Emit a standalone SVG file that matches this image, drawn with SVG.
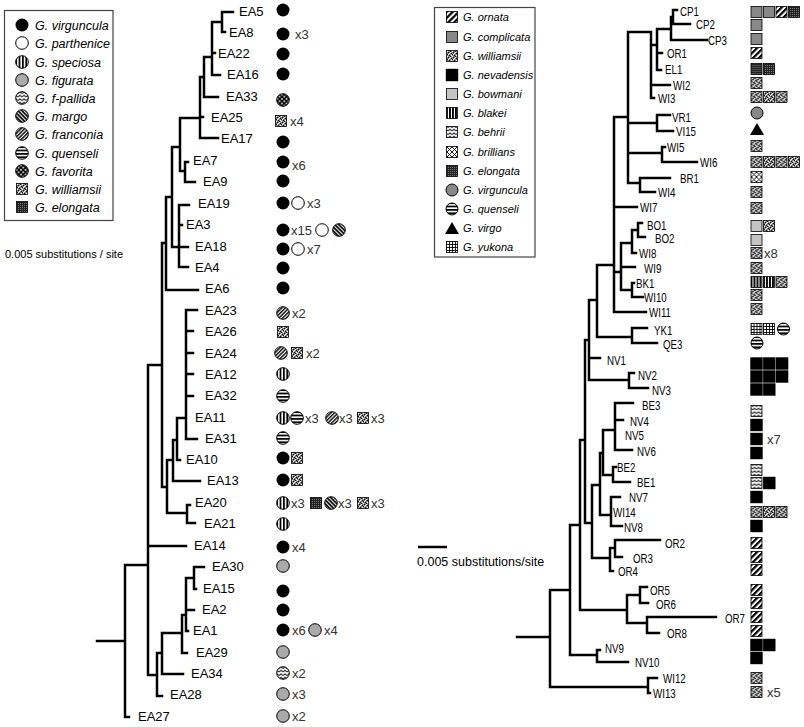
<svg xmlns="http://www.w3.org/2000/svg" width="804" height="727" viewBox="0 0 804 727">
<style>
.t{fill:none;stroke:#000;stroke-width:2.5;stroke-linecap:square;stroke-linejoin:miter}
.l{font-family:"Liberation Sans",Arial,sans-serif;font-size:13px;fill:#000}
.r{font-family:"Liberation Sans",Arial,sans-serif;font-size:12.5px;fill:#000}
.n{font-family:"Liberation Sans",Arial,sans-serif;font-size:13px;fill:#333}
.lg{font-family:"Liberation Sans",Arial,sans-serif;font-size:12.5px;font-style:italic;fill:#000}
.lg2{font-family:"Liberation Sans",Arial,sans-serif;font-size:11px;font-style:italic;fill:#000}
.sc{font-family:"Liberation Sans",Arial,sans-serif;fill:#000}
.box{fill:#fff;stroke:#444;stroke-width:1.2}
</style>
<defs>
<pattern id="pV" width="3.4" height="3.4" patternUnits="userSpaceOnUse"><rect width="3.4" height="3.4" fill="#fff"/><rect width="1.8" height="3.4" fill="#000"/></pattern>
<pattern id="pH" width="3.4" height="3.4" patternUnits="userSpaceOnUse"><rect width="3.4" height="3.4" fill="#fff"/><rect width="3.4" height="1.8" fill="#000"/></pattern>
<pattern id="pMa" width="2.8" height="2.8" patternUnits="userSpaceOnUse" patternTransform="rotate(-45)"><rect width="2.8" height="2.8" fill="#fff"/><rect width="1.7" height="2.8" fill="#000"/></pattern>
<pattern id="pFr" width="2.6" height="2.6" patternUnits="userSpaceOnUse" patternTransform="rotate(45)"><rect width="2.6" height="2.6" fill="#fff"/><rect width="1.4" height="2.6" fill="#000"/></pattern>
<pattern id="pZ" width="4" height="3.5" patternUnits="userSpaceOnUse"><rect width="4" height="3.5" fill="#fff"/><path d="M0 2.6L2 .9L4 2.6" fill="none" stroke="#000" stroke-width=".9"/></pattern>
<pattern id="pFav" width="4.5" height="4.5" patternUnits="userSpaceOnUse"><rect width="4.5" height="4.5" fill="#000"/><rect x=".4" y=".4" width="1.6" height="1.6" fill="#fff"/><rect x="2.65" y="2.65" width="1.6" height="1.6" fill="#fff"/></pattern>
<pattern id="pWil" width="5" height="5" patternUnits="userSpaceOnUse"><rect width="5" height="5" fill="#888"/><path d="M0 0h1v1H0zM3 1h1v1H3zM1 3h1v1H1zM4 4h1v1H4zM2 2h1v1H2z" fill="#fff"/><path d="M1 1h1v1H1zM4 2h1v1H4zM2 4h1v1H2zM0 3h1v1H0zM3 0h1v1H3z" fill="#000"/></pattern>
<pattern id="pElo" width="2" height="2" patternUnits="userSpaceOnUse"><rect width="2" height="2" fill="#222"/><rect width="1" height="1" fill="#777"/></pattern>
<pattern id="pOrn" width="4.2" height="4.2" patternUnits="userSpaceOnUse" patternTransform="rotate(45)"><rect width="4.2" height="4.2" fill="#fff"/><rect width="2.2" height="4.2" fill="#000"/></pattern>
<pattern id="pBr" width="5" height="5" patternUnits="userSpaceOnUse"><rect width="5" height="5" fill="#fff"/><path d="M0 0L5 5M5 0L0 5" stroke="#000" stroke-width=".9"/></pattern>
<pattern id="pYk" width="3" height="3" patternUnits="userSpaceOnUse"><rect width="3" height="3" fill="#000"/><rect x=".9" y=".9" width="2.1" height="2.1" fill="#fff"/></pattern>
<pattern id="pBl" width="3" height="3" patternUnits="userSpaceOnUse"><rect width="3" height="3" fill="#fff"/><rect width="1.9" height="3" fill="#000"/></pattern>
<circle id="cB" r="6.5" fill="#000"/>
<circle id="cW" r="6.3" fill="#fff" stroke="#000" stroke-width="1"/>
<circle id="cSp" r="6.3" fill="url(#pV)" stroke="#000" stroke-width="1"/>
<circle id="cFig" r="6.3" fill="#aaa" stroke="#000" stroke-width="1"/>
<circle id="cFp" r="6.3" fill="url(#pZ)" stroke="#000" stroke-width="1"/>
<circle id="cMa" r="6.3" fill="url(#pMa)" stroke="#000" stroke-width="1"/>
<circle id="cFr" r="6.3" fill="url(#pFr)" stroke="#000" stroke-width="1"/>
<circle id="cQu" r="6.3" fill="url(#pH)" stroke="#000" stroke-width="1"/>
<circle id="cFav" r="6.3" fill="url(#pFav)" stroke="#000" stroke-width="1"/>
<rect id="sWil" x="-5.5" y="-5.5" width="11" height="11" fill="url(#pWil)" stroke="#000" stroke-width=".8"/>
<rect id="sElo" x="-5.5" y="-5.5" width="11" height="11" fill="url(#pElo)" stroke="#000" stroke-width=".8"/>
<rect id="sOrn" x="-5.5" y="-5.5" width="11" height="11" fill="url(#pOrn)" stroke="#000" stroke-width=".8"/>
<rect id="sCom" x="-5.5" y="-5.5" width="11" height="11" fill="#888" stroke="#000" stroke-width=".8"/>
<rect id="sBow" x="-5.5" y="-5.5" width="11" height="11" fill="#c4c4c4" stroke="#000" stroke-width=".8"/>
<rect id="sBla" x="-5.5" y="-5.5" width="11" height="11" fill="url(#pBl)" stroke="#000" stroke-width=".8"/>
<rect id="sBeh" x="-5.5" y="-5.5" width="11" height="11" fill="url(#pZ)" stroke="#000" stroke-width=".8"/>
<rect id="sBri" x="-5.5" y="-5.5" width="11" height="11" fill="url(#pBr)" stroke="#000" stroke-width=".8"/>
<rect id="sYuk" x="-5.5" y="-5.5" width="11" height="11" fill="url(#pYk)" stroke="#000" stroke-width=".8"/>
<rect id="sNev" x="-6.2" y="-6.2" width="12.4" height="12.4" fill="#000"/>
<circle id="cVir" r="6" fill="#888" stroke="#000" stroke-width="1"/>
<circle id="cQ2" r="6" fill="url(#pH)" stroke="#000" stroke-width="1"/>
<path id="tri" d="M-7 6L7 6L0 -6Z" fill="#000"/>
</defs>
<rect width="804" height="727" fill="#fff"/>

<!-- Left legend -->
<g id="legend-left">
<rect class="box" x="4.5" y="10.5" width="108.5" height="210"/>
<use href="#cB" x="22" y="25"/><text class="lg" x="35" y="29.5">G. virguncula</text>
<use href="#cW" x="22" y="43"/><text class="lg" x="35" y="47.5">G. parthenice</text>
<use href="#cSp" x="22" y="62"/><text class="lg" x="35" y="66.5">G. speciosa</text>
<use href="#cFig" x="22" y="80"/><text class="lg" x="35" y="84.5">G. figurata</text>
<use href="#cFp" x="22" y="98"/><text class="lg" x="35" y="102.5">G. f-pallida</text>
<use href="#cMa" x="22" y="116"/><text class="lg" x="35" y="120.5">G. margo</text>
<use href="#cFr" x="22" y="134"/><text class="lg" x="35" y="138.5">G. franconia</text>
<use href="#cQu" x="22" y="153"/><text class="lg" x="35" y="157.5">G. quenseli</text>
<use href="#cFav" x="22" y="171"/><text class="lg" x="35" y="175.5">G. favorita</text>
<use href="#sWil" x="22" y="189"/><text class="lg" x="35" y="193.5">G. williamsii</text>
<use href="#sElo" x="22" y="207"/><text class="lg" x="35" y="211.5">G. elongata</text>
</g>
<text id="scale-left" class="sc" x="5" y="258" font-size="11">0.005 substitutions / site</text>

<!-- Right legend -->
<g id="legend-right">
<rect class="box" x="434.5" y="7.5" width="100.5" height="249.5"/>
<use href="#sOrn" x="452" y="17"/><text class="lg2" x="463" y="21">G. ornata</text>
<use href="#sCom" x="452" y="37"/><text class="lg2" x="463" y="41">G. complicata</text>
<use href="#sWil" x="452" y="56"/><text class="lg2" x="463" y="60">G. williamsii</text>
<use href="#sNev" x="452" y="75"/><text class="lg2" x="463" y="79">G. nevadensis</text>
<use href="#sBow" x="452" y="94"/><text class="lg2" x="463" y="98">G. bowmani</text>
<use href="#sBla" x="452" y="113"/><text class="lg2" x="463" y="117">G. blakei</text>
<use href="#sBeh" x="452" y="132"/><text class="lg2" x="463" y="136">G. behrii</text>
<use href="#sBri" x="452" y="152"/><text class="lg2" x="463" y="156">G. brillians</text>
<use href="#sElo" x="452" y="171"/><text class="lg2" x="463" y="175">G. elongata</text>
<use href="#cVir" x="452" y="190"/><text class="lg2" x="463" y="194">G. virguncula</text>
<use href="#cQ2" x="452" y="209"/><text class="lg2" x="463" y="213">G. quenseli</text>
<use href="#tri" x="452" y="228"/><text class="lg2" x="463" y="232">G. virgo</text>
<use href="#sYuk" x="452" y="247"/><text class="lg2" x="463" y="251">G. yukona</text>
</g>
<g id="scale-right">
<path d="M418 547H447" stroke="#000" stroke-width="2.5"/>
<text class="sc" x="417" y="566" font-size="12.5">0.005 substitutions/site</text>
</g>

<!-- Connectors -->
<g id="connectors">
<path class="t" d="M222 12V32M222 12H233M222 32H225M212 22V75M212 22H222M212 53H215M212 75H220M204 57V97M204 57H212M204 97H218M200 77V138M200 77H204M200 117H203M200 138H218M180 118V171M180 118H200M180 171H185M185 162V182M185 162H188M185 182H195M172 147V247M172 147H180M172 247H179M179 205V267M179 205H189M179 225H182M179 247H188M179 267H188M166 197V290M166 197H172M166 290H198M162 243V487M162 243H166M162 487H167M186 310V439M186 310H197M186 331H193M186 353H193M186 374H193M186 396H193M186 439H197M177 418V460M177 418H186M177 460H180M173 440V481M173 440H177M173 481H200M167 460V513M167 460H173M167 513H187M187 505V523M187 505H190M187 523H195M148 365V675M148 365H162M148 546H186M148 675H157M125 565V717M125 565H148M125 717H129M97 641H125M157 653V696M157 653H162M157 696H162M162 633V674M162 633H182M162 674H183M182 615V653M182 615H186M182 653H187M186 578V631M186 578H194M186 610H194M186 631H188M194 567V589M194 567H204M194 589H196"/>
<path class="t" d="M673 10V24M673 10H677M673 24H690M671 17V40M671 17H673M671 40H707M657 29V70M657 29H671M657 53H662M657 70H661M651 32V98M651 45H657M651 85H670M651 98H654M628 32V183M628 32H651M628 123H657M628 153H662M628 183H640M657 115V131M657 115H670M657 131H673M662 147V162M662 147H665M662 162H697M640 178V192M640 178H670M640 192H655M614 117V312M614 117H628M614 207H637M614 272H621M614 312H646M621 243V290M621 243H632M621 267H635M621 290H632M632 230V253M632 230H638M632 253H636M638 223V237M638 223H642M638 237H645M632 283V297M632 283H634M632 297H643M597 265V337M597 265H614M597 337H632M632 328V343M632 328H647M632 343H657M589 300V380M589 300H597M589 358H600M589 380H629M629 373V388M629 373H634M629 388H648M585 340V523M585 340H589M585 523H592M592 485V558M592 485H600M592 558H610M600 453V515M600 453H603M600 515H611M603 430V475M603 430H615M603 475H613M615 403V450M615 403H633M615 420H623M615 450H632M613 467V482M613 467H616M613 482H630M611 497V526M611 497H620M611 526H622M610 548V571M610 548H615M610 571H613M615 540V557M615 540H660M615 557H622M580 440V610M580 440H585M580 610H627M627 595V623M627 595H640M627 623H647M640 587V603M640 587H647M640 603H648M647 617V633M647 617H716M647 633H659M570 525V655M570 525H580M570 655H597M597 650V662M597 650H600M597 662H628M550 590V687M550 590H570M550 687H648M517 637H550M648 678V693M648 678H657M648 693H650"/>
</g>

<!-- Left tree leaves -->
<g id="EA5"><text class="l" x="239" y="16">EA5</text><use href="#cB" x="283" y="10"/></g>
<g id="EA8"><text class="l" x="229" y="37">EA8</text><use href="#cB" x="283" y="34"/><text class="n" x="295" y="39">x3</text></g>
<g id="EA22"><text class="l" x="218" y="58">EA22</text><use href="#cB" x="283" y="54"/></g>
<g id="EA16"><text class="l" x="227" y="79">EA16</text><use href="#cB" x="283" y="74"/></g>
<g id="EA33"><text class="l" x="226" y="101">EA33</text><use href="#cFav" x="283" y="100"/></g>
<g id="EA25"><text class="l" x="211" y="122">EA25</text><use href="#sWil" x="281" y="121"/><text class="n" x="290" y="126">x4</text></g>
<g id="EA17"><text class="l" x="221" y="143">EA17</text><use href="#cB" x="283" y="142"/></g>
<g id="EA7"><text class="l" x="193" y="165">EA7</text><use href="#cB" x="283" y="162"/><text class="n" x="292" y="170">x6</text></g>
<g id="EA9"><text class="l" x="203" y="186">EA9</text><use href="#cB" x="283" y="181"/></g>
<g id="EA19"><text class="l" x="198" y="208">EA19</text><use href="#cB" x="283" y="203"/><use href="#cW" x="298" y="203"/><text class="n" x="307" y="208">x3</text></g>
<g id="EA3"><text class="l" x="186" y="229">EA3</text><use href="#cB" x="283" y="230"/><text class="n" x="291" y="235">x15</text><use href="#cW" x="322" y="230"/><use href="#cMa" x="339" y="230"/></g>
<g id="EA18"><text class="l" x="195" y="251">EA18</text><use href="#cB" x="283" y="249"/><use href="#cW" x="298" y="249"/><text class="n" x="307" y="254">x7</text></g>
<g id="EA4"><text class="l" x="195" y="272">EA4</text><use href="#cB" x="283" y="268"/></g>
<g id="EA6"><text class="l" x="205" y="293">EA6</text><use href="#cB" x="283" y="288"/></g>
<g id="EA23"><text class="l" x="205" y="315">EA23</text><use href="#cFr" x="283" y="313"/><text class="n" x="292" y="318">x2</text></g>
<g id="EA26"><text class="l" x="205" y="336">EA26</text><use href="#sWil" x="283" y="332"/></g>
<g id="EA24"><text class="l" x="205" y="358">EA24</text><use href="#cFr" x="281" y="353"/><use href="#sWil" x="297" y="353"/><text class="n" x="306" y="358">x2</text></g>
<g id="EA12"><text class="l" x="205" y="379">EA12</text><use href="#cSp" x="283" y="374"/></g>
<g id="EA32"><text class="l" x="205" y="400">EA32</text><use href="#cQu" x="283" y="396"/></g>
<g id="EA11"><text class="l" x="195" y="422">EA11</text><use href="#cSp" x="283" y="418"/><use href="#cQu" x="297" y="418"/><text class="n" x="305" y="423">x3</text><use href="#cFr" x="332" y="418"/><text class="n" x="339" y="423">x3</text><use href="#sWil" x="363" y="418"/><text class="n" x="371" y="423">x3</text></g>
<g id="EA31"><text class="l" x="205" y="443">EA31</text><use href="#cQu" x="283" y="438"/></g>
<g id="EA10"><text class="l" x="186" y="464">EA10</text><use href="#cB" x="283" y="458"/><use href="#sWil" x="297" y="458"/></g>
<g id="EA13"><text class="l" x="207" y="485">EA13</text><use href="#cB" x="283" y="480"/><use href="#sWil" x="297" y="480"/></g>
<g id="EA20"><text class="l" x="195" y="507">EA20</text><use href="#cSp" x="283" y="503"/><text class="n" x="291" y="508">x3</text><use href="#sElo" x="316" y="503"/><use href="#cMa" x="331" y="503"/><text class="n" x="338" y="508">x3</text><use href="#sWil" x="363" y="503"/><text class="n" x="371" y="508">x3</text></g>
<g id="EA21"><text class="l" x="204" y="528">EA21</text><use href="#cSp" x="283" y="524"/></g>
<g id="EA14"><text class="l" x="194" y="550">EA14</text><use href="#cB" x="283" y="547"/><text class="n" x="292" y="552">x4</text></g>
<g id="EA30"><text class="l" x="212" y="571">EA30</text><use href="#cFig" x="283" y="566"/></g>
<g id="EA15"><text class="l" x="203" y="593">EA15</text><use href="#cB" x="283" y="591"/></g>
<g id="EA2"><text class="l" x="202" y="614">EA2</text><use href="#cB" x="283" y="610"/></g>
<g id="EA1"><text class="l" x="193" y="635">EA1</text><use href="#cB" x="283" y="630"/><text class="n" x="292" y="635">x6</text><use href="#cFig" x="315" y="630"/><text class="n" x="324" y="635">x4</text></g>
<g id="EA29"><text class="l" x="196" y="657">EA29</text><use href="#cFig" x="283" y="652"/></g>
<g id="EA34"><text class="l" x="191" y="678">EA34</text><use href="#cFp" x="283" y="673"/><text class="n" x="292" y="678">x2</text></g>
<g id="EA28"><text class="l" x="170" y="699">EA28</text><use href="#cFig" x="283" y="694"/><text class="n" x="292" y="699">x3</text></g>
<g id="EA27"><text class="l" x="138" y="721">EA27</text><use href="#cFig" x="283" y="716"/><text class="n" x="292" y="721">x2</text></g>

<!-- Right tree leaves -->
<g id="CP1"><text class="r" transform="translate(680 15.5) scale(.78 1)">CP1</text><use href="#sCom" x="756.5" y="12"/><use href="#sCom" x="769" y="12"/><use href="#sOrn" x="781.5" y="12"/><use href="#sElo" x="794" y="12"/></g>
<g id="CP2"><text class="r" transform="translate(696 28.5) scale(.78 1)">CP2</text><use href="#sCom" x="756.5" y="25"/></g>
<g id="CP3"><text class="r" transform="translate(708 44.5) scale(.78 1)">CP3</text><use href="#sCom" x="756.5" y="39"/></g>
<g id="OR1"><text class="r" transform="translate(667 57.5) scale(.78 1)">OR1</text><use href="#sOrn" x="756.5" y="53"/></g>
<g id="EL1"><text class="r" transform="translate(665 73.5) scale(.78 1)">EL1</text><use href="#sElo" x="756.5" y="69"/><use href="#sElo" x="769" y="69"/></g>
<g id="WI2"><text class="r" transform="translate(673 89.5) scale(.78 1)">WI2</text><use href="#sWil" x="756.5" y="83"/></g>
<g id="WI3"><text class="r" transform="translate(658 102.5) scale(.78 1)">WI3</text><use href="#sWil" x="756.5" y="97"/><use href="#sWil" x="769" y="97"/><use href="#sWil" x="781.5" y="97"/></g>
<g id="VR1"><text class="r" transform="translate(672 121.5) scale(.78 1)">VR1</text><use href="#cVir" x="757" y="113"/></g>
<g id="VI15"><text class="r" transform="translate(676 135.5) scale(.78 1)">VI15</text><use href="#tri" x="757" y="129"/></g>
<g id="WI5"><text class="r" transform="translate(667 151.5) scale(.78 1)">WI5</text><use href="#sWil" x="756.5" y="146"/></g>
<g id="WI6"><text class="r" transform="translate(700 166.5) scale(.78 1)">WI6</text><use href="#sWil" x="756.5" y="162"/><use href="#sWil" x="769" y="162"/><use href="#sWil" x="781.5" y="162"/><use href="#sWil" x="794" y="162"/></g>
<g id="BR1"><text class="r" transform="translate(680 182.5) scale(.78 1)">BR1</text><use href="#sBri" x="756.5" y="177"/></g>
<g id="WI4"><text class="r" transform="translate(658 196.5) scale(.78 1)">WI4</text><use href="#sWil" x="756.5" y="192"/></g>
<g id="WI7"><text class="r" transform="translate(640 211.5) scale(.78 1)">WI7</text><use href="#sWil" x="756.5" y="208"/></g>
<g id="BO1"><text class="r" transform="translate(647 229.5) scale(.78 1)">BO1</text><use href="#sBow" x="756.5" y="226"/><use href="#sWil" x="769" y="226"/></g>
<g id="BO2"><text class="r" transform="translate(655 242.5) scale(.78 1)">BO2</text><use href="#sBow" x="756.5" y="240"/></g>
<g id="WI8"><text class="r" transform="translate(639 257.5) scale(.78 1)">WI8</text><use href="#sWil" x="756.5" y="253"/><text class="n" x="764" y="258">x8</text></g>
<g id="WI9"><text class="r" transform="translate(644 272.5) scale(.78 1)">WI9</text><use href="#sWil" x="756.5" y="268"/></g>
<g id="BK1"><text class="r" transform="translate(636 287.5) scale(.78 1)">BK1</text><use href="#sBla" x="756.5" y="282"/><use href="#sBla" x="769" y="282"/><use href="#sWil" x="781.5" y="282"/></g>
<g id="WI10"><text class="r" transform="translate(644 301.5) scale(.78 1)">WI10</text><use href="#sWil" x="756.5" y="295"/></g>
<g id="WI11"><text class="r" transform="translate(649 316.5) scale(.78 1)">WI11</text><use href="#sWil" x="756.5" y="309"/></g>
<g id="YK1"><text class="r" transform="translate(654 334.5) scale(.78 1)">YK1</text><use href="#sYuk" x="756.5" y="329"/><use href="#sYuk" x="769" y="329"/><use href="#cQ2" x="783.5" y="329"/></g>
<g id="QE3"><text class="r" transform="translate(663 348.5) scale(.78 1)">QE3</text><use href="#cQ2" x="757" y="343"/></g>
<g id="NV1"><text class="r" transform="translate(607 364.5) scale(.78 1)">NV1</text><use href="#sNev" x="756.5" y="363.5"/><use href="#sNev" x="769.3" y="363.5"/><use href="#sNev" x="782.1" y="363.5"/></g>
<g id="NV2"><text class="r" transform="translate(638 379.5) scale(.78 1)">NV2</text><use href="#sNev" x="756.5" y="376.5"/><use href="#sNev" x="769.3" y="376.5"/><use href="#sNev" x="782.1" y="376.5"/></g>
<g id="NV3"><text class="r" transform="translate(652 394.5) scale(.78 1)">NV3</text><use href="#sNev" x="756.5" y="389.5"/><use href="#sNev" x="769.3" y="389.5"/></g>
<g id="BE3"><text class="r" transform="translate(642 409.5) scale(.78 1)">BE3</text><use href="#sBeh" x="756.5" y="411"/></g>
<g id="NV4"><text class="r" transform="translate(630 425.5) scale(.78 1)">NV4</text><use href="#sNev" x="756.5" y="425"/></g>
<g id="NV5"><text class="r" transform="translate(625 439.5) scale(.78 1)">NV5</text><use href="#sNev" x="756.5" y="439"/><text class="n" x="767" y="444">x7</text></g>
<g id="NV6"><text class="r" transform="translate(637 455.5) scale(.78 1)">NV6</text><use href="#sNev" x="756.5" y="453"/></g>
<g id="BE2"><text class="r" transform="translate(617 471.5) scale(.78 1)">BE2</text><use href="#sBeh" x="756.5" y="470"/></g>
<g id="BE1"><text class="r" transform="translate(637 486.5) scale(.78 1)">BE1</text><use href="#sBeh" x="756.5" y="483"/><use href="#sNev" x="769.3" y="483"/></g>
<g id="NV7"><text class="r" transform="translate(629 501.5) scale(.78 1)">NV7</text><use href="#sNev" x="756.5" y="497"/></g>
<g id="WI14"><text class="r" transform="translate(613 516.5) scale(.78 1)">WI14</text><use href="#sWil" x="756.5" y="512"/><use href="#sWil" x="769" y="512"/><use href="#sWil" x="781.5" y="512"/></g>
<g id="NV8"><text class="r" transform="translate(624 531.5) scale(.78 1)">NV8</text><use href="#sNev" x="756.5" y="526"/></g>
<g id="OR2"><text class="r" transform="translate(665 547.5) scale(.78 1)">OR2</text><use href="#sOrn" x="756.5" y="543"/></g>
<g id="OR3"><text class="r" transform="translate(633 562.5) scale(.78 1)">OR3</text><use href="#sOrn" x="756.5" y="557"/></g>
<g id="OR4"><text class="r" transform="translate(618 575.5) scale(.78 1)">OR4</text><use href="#sOrn" x="756.5" y="570"/></g>
<g id="OR5"><text class="r" transform="translate(650 594.5) scale(.78 1)">OR5</text><use href="#sOrn" x="756.5" y="590"/></g>
<g id="OR6"><text class="r" transform="translate(656 608.5) scale(.78 1)">OR6</text><use href="#sOrn" x="756.5" y="603"/></g>
<g id="OR7"><text class="r" transform="translate(725 622.5) scale(.78 1)">OR7</text><use href="#sOrn" x="756.5" y="617"/></g>
<g id="OR8"><text class="r" transform="translate(667 637.5) scale(.78 1)">OR8</text><use href="#sOrn" x="756.5" y="631"/></g>
<g id="NV9"><text class="r" transform="translate(605 652.5) scale(.78 1)">NV9</text><use href="#sNev" x="756.5" y="645"/><use href="#sNev" x="769.3" y="645"/></g>
<g id="NV10"><text class="r" transform="translate(635 666.5) scale(.78 1)">NV10</text><use href="#sNev" x="756.5" y="658"/></g>
<g id="WI12"><text class="r" transform="translate(663 682.5) scale(.78 1)">WI12</text><use href="#sWil" x="756.5" y="678"/></g>
<g id="WI13"><text class="r" transform="translate(653 697.5) scale(.78 1)">WI13</text><use href="#sWil" x="756.5" y="692"/><text class="n" x="767" y="697">x5</text></g>
</svg>
